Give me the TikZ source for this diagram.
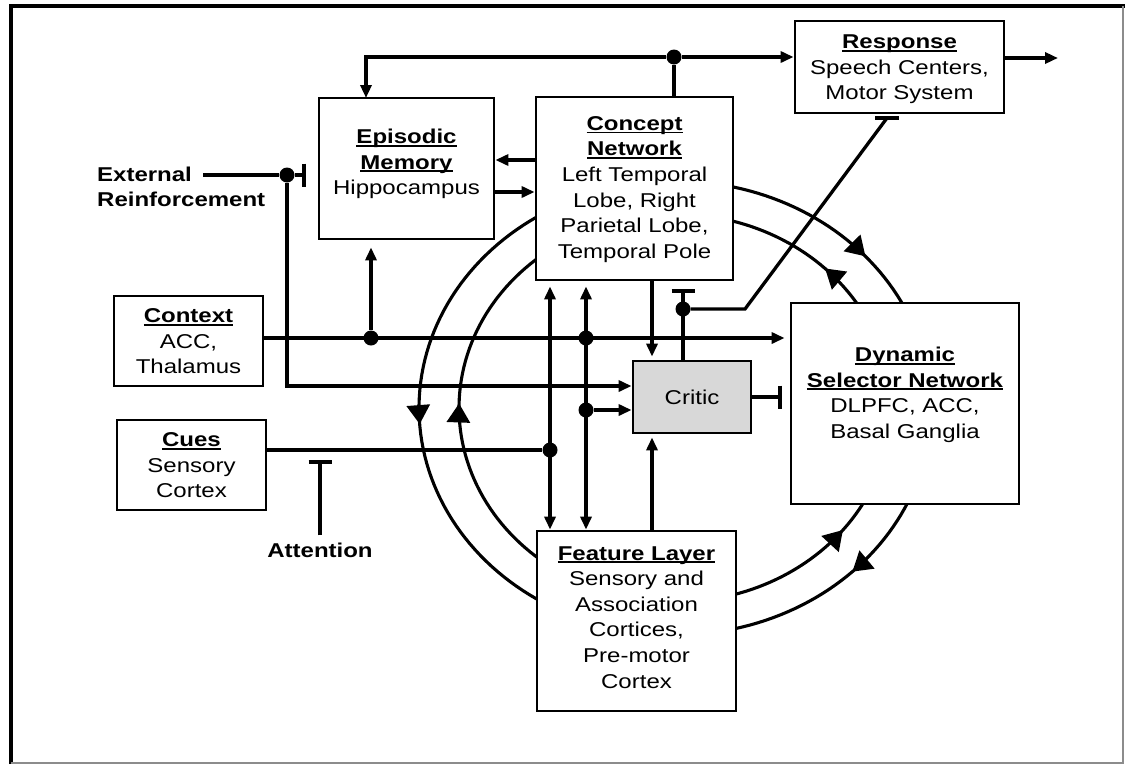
\documentclass[tikz,border=0pt]{standalone}
\usepackage{fontspec}
\setmainfont{Liberation Sans}[FakeStretch=1.2]
\usetikzlibrary{arrows.meta,decorations.markings,calc}
\definecolor{critgray}{RGB}{216,216,216}
\newcommand\hd[1]{\setbox0\hbox{\bfseries #1}\leavevmode\rlap{\copy0}\rule[-3.2pt]{\wd0}{1.9pt}}
\begin{document}
\begin{tikzpicture}[x=1pt,y=-1pt,
  every node/.style={font=\fontsize{20}{25.6}\selectfont, inner sep=0pt},
  box/.style={draw, line width=2.8pt, fill=white, rectangle},
  ln/.style={line width=3.3pt},
  arr/.style={ln, -{Triangle[length=13pt,width=11pt]}},
  dbl/.style={ln, {Triangle[length=13pt,width=11pt]}-{Triangle[length=13pt,width=11pt]}},
  inh/.style={ln, -{Bar[width=23pt,line width=3.6pt]}},
  dot/.style={circle, fill, minimum size=15pt, inner sep=0pt},
  arcl/.style={line width=3.1pt},
  mk/.style={decoration={markings, mark=at position #1 with {\arrow{Triangle[length=19pt,width=23pt]}}}, postaction={decorate}}]
\useasboundingbox (0,0) rectangle (1126,764);
% frame
\draw[line width=3.5pt] (11,764) -- (11,6) -- (1125,6);
\draw[line width=1.2pt, black!45] (1123,6) -- (1123,763) -- (11,763);
% loops
\draw[arcl, mk=0.53] plot[domain=245:115, samples=70] ({675+256*cos(\x)},{408+227*sin(\x)});
\draw[arcl, mk=0.51] plot[domain=115:245, samples=70] ({675+216*cos(\x)},{408+194*sin(\x)});
\draw[arcl, mk=0.56] plot[domain=-80:-10, samples=40] ({675+256*cos(\x)},{408+227*sin(\x)});
\draw[arcl, mk=0.5] plot[domain=-10:-80, samples=40] ({675+216*cos(\x)},{408+194*sin(\x)});
\draw[arcl, mk=0.6] plot[domain=80:10, samples=40] ({675+216*cos(\x)},{408+194*sin(\x)});
\draw[arcl, mk=0.5] plot[domain=10:80, samples=40] ({675+256*cos(\x)},{408+227*sin(\x)});
% boxes
\node[box, minimum width=209pt, minimum height=92pt] (resp) at (899.5,67) {};
\node[box, minimum width=175pt, minimum height=141pt] (epi) at (406.5,168.5) {};
\node[box, minimum width=197pt, minimum height=183pt] (conc) at (634.5,188.5) {};
\node[box, minimum width=149pt, minimum height=90pt] (ctx) at (188.5,341) {};
\node[box, minimum width=149pt, minimum height=90pt] (cues) at (191.5,465) {};
\node[box, fill=critgray, minimum width=118pt, minimum height=72pt] (critic) at (692,397) {};
\node[box, minimum width=228pt, minimum height=201pt] (dyn) at (905,403.5) {};
\node[box, minimum width=199pt, minimum height=180pt] (feat) at (636.5,621) {};
% texts
\node[align=center] (respT) at (899.5,69.3) {\hd{Response}\\Speech Centers,\\Motor System};
\node[align=center] (epiT) at (406.5,163.9) {\hd{Episodic}\\\hd{Memory}\\Hippocampus};
\node[align=center] (concT) at (634.5,189.3) {\hd{Concept}\\\hd{Network}\\Left Temporal\\Lobe, Right\\Parietal Lobe,\\Temporal Pole};
\node[align=center] (ctxT) at (188.5,341.3) {\hd{Context}\\ACC,\\Thalamus};
\node[align=center] (cuesT) at (191.5,465.3) {\hd{Cues}\\Sensory\\Cortex};
\node (critT) at (692,397.5) {Critic};
\node[align=center] (dynT) at (905,394.8) {\hd{Dynamic}\\\hd{Selector Network}\\DLPFC, ACC,\\Basal Ganglia};
\node[align=center] (featT) at (636.5,617.3) {\hd{Feature Layer}\\Sensory and\\Association\\Cortices,\\Pre-motor\\Cortex};
\node[align=left, anchor=west, font=\fontsize{20}{25}\selectfont\bfseries] (extT) at (97,187.3) {External\\Reinforcement};
\node[anchor=base, font=\fontsize{20}{25.6}\selectfont\bfseries] (att) at (320,557) {Attention};
% helper coordinates
\coordinate (h160) at (0,160);
\coordinate (h192) at (0,192);
\coordinate (h338) at (0,338);
\coordinate (h386) at (0,386);
\coordinate (h450) at (0,450);
\coordinate (v550) at (550,0);
\coordinate (v586) at (586,0);
\coordinate (v652) at (652,0);
\coordinate (epiIn) at (366,98);
\coordinate (out) at (1058,58);
\coordinate (extS) at (203,175);
\coordinate (crBar) at (683,289);
\coordinate (bend) at (745,309);
\coordinate (respBar) at (887,118);
\coordinate (attBar) at (320,460);
% junction dots
\node[dot] (dTop) at (674,57) {};
\node[dot] (dExt) at (287,175) {};
\node[dot] (dCtx) at (371,338) {};
\node[dot] (dC2) at (586,338) {};
\node[dot] (dC3) at (586,410) {};
\node[dot] (dCue) at (550,450) {};
\node[dot] (dCr) at (683,309) {};
% connectors
\draw[ln] (conc.north -| dTop) -- (dTop);
\draw[arr] (dTop) -- (resp.west |- dTop);
\draw[arr] (dTop) -| (epiIn);
\draw[arr] (resp.east |- out) -- (out);
\draw[arr] (conc.west |- h160) -- (epi.east |- h160);
\draw[arr] (epi.east |- h192) -- (conc.west |- h192);
\draw[ln] (extS) -- (dExt);
\draw[inh, shorten >=12pt] (dExt) -- (epi.west |- dExt);
\draw[arr] (dExt) |- (critic.west |- h386);
\draw[arr, shorten >=5pt] (ctx.east |- h338) -- (dyn.west |- h338);
\draw[arr, shorten >=7pt] (dCtx) -- (dCtx |- epi.south);
\draw[dbl, shorten <=5pt] (conc.south -| v550) -- (feat.north -| v550);
\draw[dbl, shorten <=5pt] (conc.south -| v586) -- (feat.north -| v586);
\draw[ln] (cues.east |- h450) -- (dCue);
\draw[arr] (dC3) -- (critic.west |- dC3);
\draw[arr, shorten >=3pt] (conc.south -| v652) -- (critic.north -| v652);
\draw[arr, shorten >=3pt] (feat.north -| v652) -- (critic.south -| v652);
\draw[inh] (critic.north -| crBar) -- (crBar);
\draw[ln] (dCr) -- (bend) -- (respBar);
\draw[line width=3.6pt] ([xshift=-12pt]respBar) -- ([xshift=12pt]respBar);
\draw[inh, shorten >=8pt] (critic.east) -- (dyn.west |- critic.east);
\draw[inh] ([yshift=7pt]att.north) -- (attBar);
\end{tikzpicture}
\end{document}
